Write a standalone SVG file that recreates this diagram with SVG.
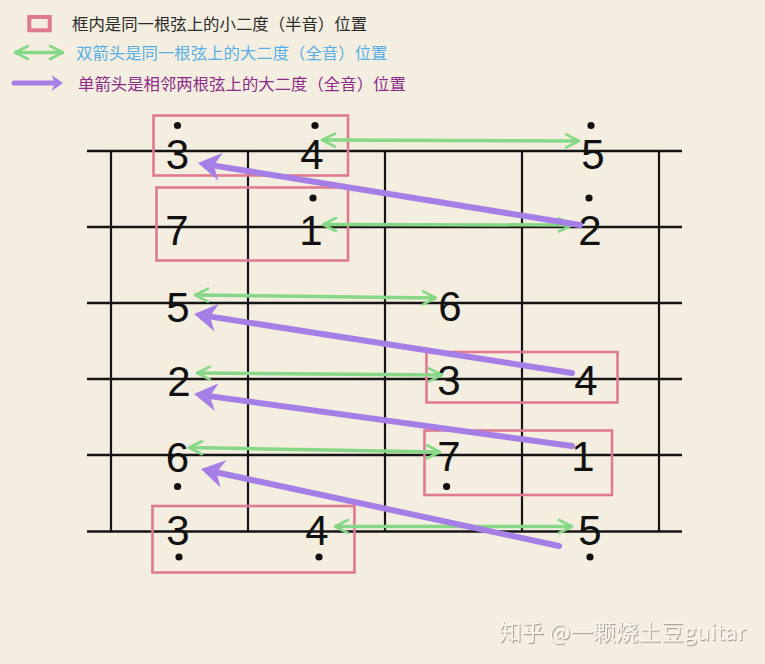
<svg xmlns="http://www.w3.org/2000/svg" width="765" height="664" viewBox="0 0 765 664">
  <style>
    .str { stroke: #151515; stroke-width: 2.5; fill: none; }
    .fret { stroke: #151515; stroke-width: 2.2; fill: none; }
    .box { fill: none; stroke: #e07a90; stroke-width: 2.6; }
    .num { font-family: "Liberation Sans", Arial, sans-serif; font-size: 42px; fill: #111; text-anchor: middle; }
    .dot { fill: #111; }
    .g { stroke: #86d886; stroke-width: 3.5; fill: none; marker-start: url(#gh); marker-end: url(#gh); }
    .p { stroke: #a67fe6; stroke-width: 6; fill: none; stroke-linecap: round; marker-end: url(#ph); }
    .leg { font-family: "Noto Sans CJK SC", "Noto Sans", sans-serif; font-size: 16.4px; }
    .wm { font-family: "Noto Sans CJK SC", "Noto Sans", sans-serif; font-size: 22px; fill: #f8f5ec; filter: url(#emb); }
  </style>
  <defs>
    <marker id="gh" markerUnits="userSpaceOnUse" viewBox="-16 -10 20 20" refX="0" refY="0" markerWidth="20" markerHeight="20" orient="auto-start-reverse">
      <path d="M-13,-6.5 L0,0 L-13,6.5" fill="none" stroke="#86d886" stroke-width="2.6" stroke-linecap="round" stroke-linejoin="round"/>
    </marker>
    <marker id="ph" markerUnits="userSpaceOnUse" viewBox="-14 -16 30 32" refX="0" refY="0" markerWidth="30" markerHeight="32" orient="auto">
      <path d="M12,0 L-11,-14 L-4,0 L-11,14 Z" fill="#a67fe6"/>
    </marker>
    <filter id="emb" x="-5%" y="-20%" width="110%" height="150%">
      <feDropShadow dx="1" dy="1.2" stdDeviation="0.6" flood-color="#9d988a" flood-opacity="0.9"/>
    </filter>
  </defs>

  <rect x="0" y="0" width="765" height="664" fill="#f3eedf"/>

  <g id="legend">
    <rect x="29.3" y="17" width="20.4" height="13.3" fill="none" stroke="#e07a90" stroke-width="4"/>
    <text class="leg" x="72" y="29.5" fill="#2a2a2a">框内是同一根弦上的小二度（半音）位置</text>
    <line x1="15" y1="52.5" x2="63" y2="52.5" class="g"/>
    <text class="leg" x="76" y="59" fill="#58aee6">双箭头是同一根弦上的大二度（全音）位置</text>
    <line x1="14" y1="83" x2="55" y2="83" stroke="#a67fe6" stroke-width="5" stroke-linecap="round"/>
    <polygon points="63,83 51.5,75 55,83 51.5,91" fill="#a67fe6"/>
    <text class="leg" x="78" y="90" fill="#8c2c8a">单箭头是相邻两根弦上的大二度（全音）位置</text>
  </g>

  <g id="grid">
    <line class="str" x1="87" y1="151" x2="682" y2="151"/>
    <line class="str" x1="87" y1="227" x2="682" y2="227"/>
    <line class="str" x1="87" y1="303" x2="682" y2="303"/>
    <line class="str" x1="87" y1="379" x2="682" y2="379"/>
    <line class="str" x1="87" y1="455" x2="682" y2="455"/>
    <line class="str" x1="87" y1="531.5" x2="682" y2="531.5" stroke-width="3.2"/>
    <line class="fret" x1="111" y1="151" x2="111" y2="531"/>
    <line class="fret" x1="248" y1="151" x2="248" y2="531"/>
    <line class="fret" x1="385" y1="151" x2="385" y2="531"/>
    <line class="fret" x1="522" y1="151" x2="522" y2="531"/>
    <line class="fret" x1="659" y1="151" x2="659" y2="531"/>
  </g>

  <g id="boxes">
    <rect class="box" x="153.5" y="115.5" width="194.5" height="60"/>
    <rect class="box" x="156.5" y="187.5" width="191.5" height="73"/>
    <rect class="box" x="426.5" y="352" width="191" height="50.5"/>
    <rect class="box" x="424.5" y="430.5" width="187.5" height="64.5"/>
    <rect class="box" x="152.5" y="506" width="202" height="66.5"/>
  </g>

  <g id="n1-3"><text class="num" x="177.5" y="169">3</text><circle class="dot" cx="177.5" cy="125.5" r="3.6"/></g>
  <g id="n1-4"><text class="num" x="312" y="169">4</text><circle class="dot" cx="315" cy="125.5" r="3.6"/></g>
  <g id="n1-5"><text class="num" x="593" y="169">5</text><circle class="dot" cx="591" cy="125.5" r="3.6"/></g>

  <g id="n2-7"><text class="num" x="177" y="245">7</text></g>
  <g id="n2-1"><text class="num" x="311" y="245">1</text><circle class="dot" cx="313" cy="198" r="3.6"/></g>
  <g id="n2-2"><text class="num" x="590" y="245">2</text><circle class="dot" cx="589" cy="198" r="3.6"/></g>

  <g id="n3-5"><text class="num" x="178" y="322">5</text></g>
  <g id="n3-6"><text class="num" x="450" y="321">6</text></g>

  <g id="n4-2"><text class="num" x="179" y="396">2</text></g>
  <g id="n4-3"><text class="num" x="449" y="395">3</text></g>
  <g id="n4-4"><text class="num" x="586" y="395">4</text></g>

  <g id="n5-6"><text class="num" x="177.5" y="472">6</text><circle class="dot" cx="177.6" cy="486.5" r="3.6"/></g>
  <g id="n5-7"><text class="num" x="449" y="471">7</text><circle class="dot" cx="446.6" cy="486.5" r="3.6"/></g>
  <g id="n5-1"><text class="num" x="583" y="471">1</text></g>

  <g id="n6-3"><text class="num" x="178" y="545">3</text><circle class="dot" cx="179" cy="557" r="3.6"/></g>
  <g id="n6-4"><text class="num" x="317" y="545">4</text><circle class="dot" cx="319" cy="557" r="3.6"/></g>
  <g id="n6-5"><text class="num" x="590" y="545">5</text><circle class="dot" cx="590" cy="557" r="3.6"/></g>

  <g id="connectors">
    <line class="g" x1="322" y1="140" x2="579" y2="141"/>
    <line class="g" x1="323" y1="224.5" x2="572" y2="225"/>
    <line class="g" x1="195" y1="295" x2="436" y2="298"/>
    <line class="g" x1="197" y1="373" x2="442" y2="375"/>
    <line class="g" x1="189" y1="447.5" x2="440" y2="452"/>
    <line class="g" x1="335" y1="526.5" x2="572" y2="526.5"/>

    <line class="p" x1="580" y1="225" x2="209.8" y2="164.9"/>
    <line class="p" x1="572" y1="373" x2="205.9" y2="315.9"/>
    <line class="p" x1="572" y1="446" x2="205.9" y2="395.6"/>
    <line class="p" x1="559" y1="546" x2="212.7" y2="471.5"/>
  </g>

  <text class="wm" x="499" y="640" textLength="247" lengthAdjust="spacingAndGlyphs">知乎 @一颗烧土豆guitar</text>
</svg>
